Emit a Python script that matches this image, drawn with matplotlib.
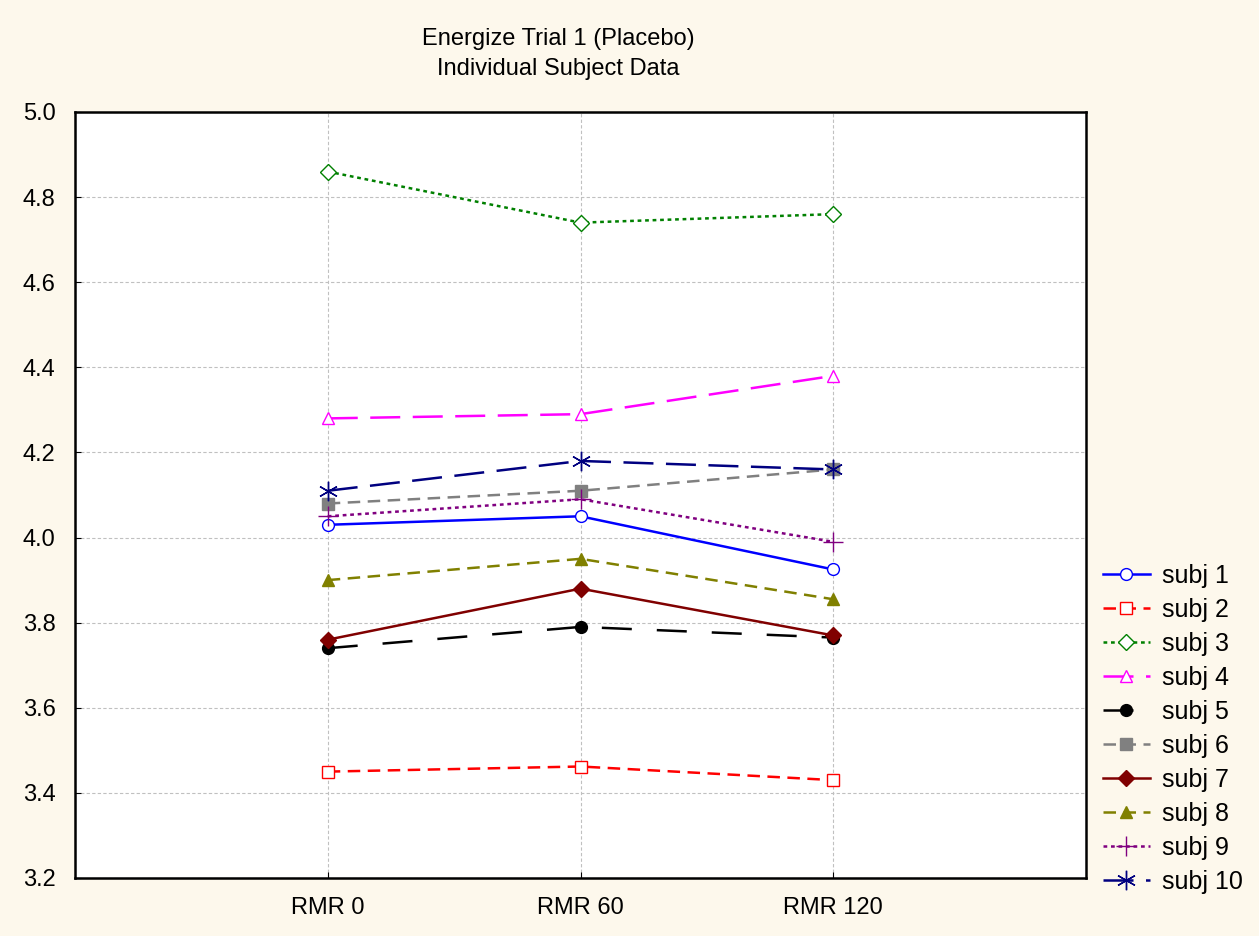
import matplotlib
matplotlib.use('Agg')
import matplotlib.pyplot as plt

plt.rcParams['font.family'] = ['Liberation Sans', 'DejaVu Sans']

# time points
times = ['RMR 0', 'RMR 60', 'RMR 120']
xpos = [1, 2, 3]

# subject values
subj1 = [4.03, 4.05, 3.925]
subj2 = [3.45, 3.462, 3.43]
subj3 = [4.86, 4.74, 4.76]
subj4 = [4.28, 4.29, 4.38]
subj5 = [3.74, 3.79, 3.765]
subj6 = [4.08, 4.11, 4.16]
subj7 = [3.76, 3.88, 3.77]
subj8 = [3.90, 3.95, 3.855]
subj9 = [4.05, 4.09, 3.99]
subj10 = [4.11, 4.18, 4.16]

series = [subj1, subj2, subj3, subj4, subj5, subj6, subj7, subj8, subj9, subj10]
labels = ['subj %d' % i for i in range(1, 11)]
colors = ['#0000ff', '#ff0000', '#008000', '#ff00ff', '#000000',
          '#808080', '#800000', '#808000', '#800080', '#000080']
markers = ['o', 's', 'D', '^', 'o', 's', 'D', '^', '+', (6, 2, 0)]
filled = [False, False, False, False, True, True, True, True, True, True]
styles = ['-', (0, (5, 3)), (0, (1.5, 1.5)), (0, (12, 5)), (0, (12, 10)),
          (0, (5, 3)), '-', (0, (5, 3)), (0, (1.5, 1.5)), (0, (12, 5))]

bg = '#fdf8ec'
fig = plt.figure(figsize=(12.59, 9.36), dpi=100, facecolor=bg)
ax = fig.add_axes([75/1259, 1 - 878/936, (1086-75)/1259, (878-112)/936])
ax.set_facecolor('white')

for vals, lab, c, m, f, ls in zip(series, labels, colors, markers, filled, styles):
    ax.plot(xpos, vals, color=c, linestyle=ls, linewidth=1.8, marker=m,
            markersize=8.5 if m not in ('+', (6, 2, 0)) else 14,
            markerfacecolor=c if f else 'white', markeredgecolor=c,
            markeredgewidth=1.0, label=lab)

ax.set_xlim(0, 4)
ax.set_ylim(3.2, 5.0)
ax.set_xticks(xpos)
ax.set_xticklabels(times)
ax.set_yticks([3.2, 3.4, 3.6, 3.8, 4.0, 4.2, 4.4, 4.6, 4.8, 5.0])
ax.tick_params(direction='in', length=4, labelsize=17, pad=14)
ax.grid(True, color='#c0c0c0', linestyle=(0, (3, 2)), linewidth=0.8)
for s in ax.spines.values():
    s.set_linewidth(1.8)

fig.text(558/1259, 1 - 54/936, 'Energize Trial 1 (Placebo)\nIndividual Subject Data',
         ha='center', va='center', fontsize=17, linespacing=1.45)

fig.legend(loc='upper left', bbox_to_anchor=(1080/1259, 1 - 541/936),
           frameon=False, fontsize=18, handlelength=1.9, labelspacing=0.4,
           handletextpad=0.5)

fig.savefig('out.png', dpi=100, facecolor=bg)
